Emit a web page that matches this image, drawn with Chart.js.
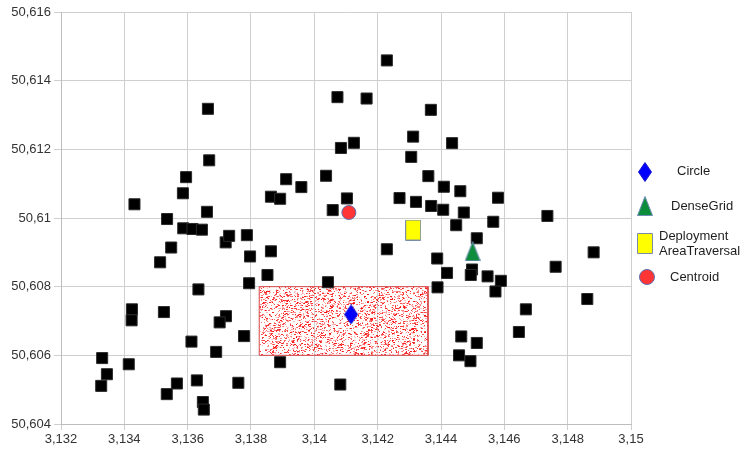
<!DOCTYPE html>
<html>
<head>
<meta charset="utf-8">
<script src="https://cdn.jsdelivr.net/npm/chart.js@4.4.1/dist/chart.umd.min.js"></script>
<style>
  html, body { margin: 0; padding: 0; background: #fff; }
</style>
</head>
<body>
<canvas id="chart" width="748" height="453"></canvas>
<script>
// sensor nodes (black squares)
const nodeX = [3.13432, 3.13535, 3.13585, 3.13595, 3.13664, 3.13668, 3.13661, 3.13863, 3.13892, 3.13911,
  3.13959, 3.14037, 3.14058, 3.14073, 3.14084, 3.14103, 3.14125, 3.14165, 3.14229, 3.14368,
  3.14312, 3.14435, 3.14306, 3.14360, 3.14409, 3.14461, 3.14269, 3.14321, 3.14369, 3.14407,
  3.14472, 3.14580, 3.14736, 3.14448, 3.14565, 3.14513, 3.14229, 3.14388, 3.14419, 3.14498,
  3.14494, 3.14547, 3.14589, 3.14572, 3.14389, 3.14882, 3.14762, 3.14862, 3.14668, 3.14646,
  3.14464, 3.14513, 3.14457, 3.14493, 3.13586, 3.13615, 3.13645, 3.13548, 3.13513, 3.13720,
  3.13731, 3.13787, 3.13797, 3.13863, 3.13852, 3.13794, 3.13634, 3.14043, 3.13424, 3.13423,
  3.13525, 3.13721, 3.13701, 3.13778, 3.13612, 3.13690, 3.13330, 3.13414, 3.13345, 3.13327,
  3.13892, 3.13566, 3.13534, 3.13629, 3.13648, 3.13651, 3.13760, 3.14082];
const nodeY = [50.61040, 50.60997, 50.61072, 50.61119, 50.61318, 50.61168, 50.61018, 50.61062, 50.61056, 50.61113,
  50.61090, 50.61123, 50.61023, 50.61352, 50.61204, 50.61057, 50.61219, 50.61348, 50.61459, 50.61315,
  50.61237, 50.61218, 50.61178, 50.61122, 50.61091, 50.61078, 50.61058, 50.61047, 50.61035, 50.61024,
  50.61016, 50.61059, 50.61006, 50.60979, 50.60989, 50.60941, 50.60909, 50.60882, 50.60840, 50.60850,
  50.60834, 50.60830, 50.60817, 50.60786, 50.60798, 50.60900, 50.60858, 50.60764, 50.60734, 50.60668,
  50.60655, 50.60636, 50.60600, 50.60583, 50.60970, 50.60968, 50.60966, 50.60914, 50.60871, 50.60929,
  50.60948, 50.60950, 50.60888, 50.60903, 50.60834, 50.60810, 50.60792, 50.60813, 50.60734, 50.60702,
  50.60726, 50.60714, 50.60696, 50.60656, 50.60640, 50.60610, 50.60592, 50.60574, 50.60545, 50.60511,
  50.60580, 50.60518, 50.60487, 50.60527, 50.60464, 50.60442, 50.60520, 50.60515];

// estimated positions
const circleX = [3.14116], circleY = [50.60719];
const denseGridX = [3.14500], denseGridY = [50.60903];
const traversalX = [3.14312], traversalY = [50.60965];
const centroidX = [3.14109], centroidY = [50.61016];

// deployment area (red dotted rectangle)
const areaX = [3.13826, 3.14359];
const areaY = [50.60600, 50.60800];

const seriesLabels = ['Circle', 'DenseGrid', 'Deployment AreaTraversal', 'Centroid'];

const xTickValues = [3.132, 3.134, 3.136, 3.138, 3.14, 3.142, 3.144, 3.146, 3.148, 3.15];
const xTickLabels = ['3,132', '3,134', '3,136', '3,138', '3,14', '3,142', '3,144', '3,146', '3,148', '3,15'];
const yTickValues = [50.604, 50.606, 50.608, 50.61, 50.612, 50.614, 50.616];
const yTickLabels = ['50,604', '50,606', '50,608', '50,61', '50,612', '50,614', '50,616'];

const pts = (xs, ys) => xs.map((x, i) => ({ x: x, y: ys[i] }));

// marker images
function makeMarker(w, h, fill, stroke, path) {
  const c = document.createElement('canvas');
  c.width = w; c.height = h;
  const g = c.getContext('2d');
  g.beginPath();
  path(g);
  g.closePath();
  g.fillStyle = fill;
  g.fill();
  g.lineWidth = 1;
  g.strokeStyle = stroke;
  g.stroke();
  return c;
}
const diamond = makeMarker(14, 20, '#0000ff', '#1a1ad0', g => {
  g.moveTo(7, 0.5); g.lineTo(13.5, 10); g.lineTo(7, 19.5); g.lineTo(0.5, 10);
});
const triangle = makeMarker(16, 20, '#0d8c3c', '#6f8db5', g => {
  g.moveTo(8, 0.5); g.lineTo(15.5, 19.5); g.lineTo(0.5, 19.5);
});
const yellowBox = makeMarker(16, 21, '#ffff00', '#7b8ca8', g => {
  g.rect(0.5, 0.5, 15, 20);
});

// speckle texture for the deployment area
function speckles() {
  const c = document.createElement('canvas');
  c.width = 180; c.height = 80;
  const g = c.getContext('2d');
  let s = 7;
  const next = () => { s = (s * 9301 + 49297) % 233280; return s / 233280; };
  for (let i = 0; i < 3800; i++) {
    const x = Math.floor(next() * 180), y = Math.floor(next() * 80);
    const a = 0.2 + next() * 0.7;
    g.fillStyle = 'rgba(250,0,0,' + a.toFixed(2) + ')';
    g.fillRect(x, y, next() < 0.35 ? 2 : 1, 1);
  }
  return c;
}
const ctx = document.getElementById('chart').getContext('2d');
const areaPattern = ctx.createPattern(speckles(), 'repeat');

const legendItems = [
  { marker: diamond, mx: 645, my: 172, tx: 677, lines: ['Circle'], ly: [171] },
  { marker: triangle, mx: 645, my: 206, tx: 671, lines: ['DenseGrid'], ly: [206] },
  { marker: yellowBox, mx: 645, my: 243, tx: 659, lines: ['Deployment', 'AreaTraversal'], ly: [236, 251] },
  { marker: 'circle', mx: 647, my: 277, tx: 670, lines: ['Centroid'], ly: [277] }
];

const sideLegend = {
  id: 'sideLegend',
  afterDraw(chart) {
    const c = chart.ctx;
    c.save();
    c.font = '13px "Liberation Sans", Arial, sans-serif';
    c.textBaseline = 'middle';
    legendItems.forEach(item => {
      if (item.marker === 'circle') {
        c.fillStyle = '#ff3535';
        c.strokeStyle = '#5a6fb0';
        c.lineWidth = 1;
        Chart.helpers.drawPoint(c, { pointStyle: 'circle', radius: 7.5, borderWidth: 1, rotation: 0 }, item.mx, item.my);
      } else {
        c.drawImage(item.marker, Math.round(item.mx - item.marker.width / 2), Math.round(item.my - item.marker.height / 2));
      }
      c.fillStyle = '#1e1e1e';
      item.lines.forEach((t, i) => c.fillText(t, item.tx, item.ly[i]));
    });
    c.restore();
  }
};

const tickFont = { family: '"Liberation Sans", Arial, sans-serif', size: 13 };

new Chart(ctx, {
  type: 'scatter',
  data: {
    datasets: [
      {
        label: seriesLabels[0],
        data: pts(circleX, circleY),
        pointStyle: diamond,
        order: 0
      },
      {
        label: seriesLabels[1],
        data: pts(denseGridX, denseGridY),
        pointStyle: triangle,
        order: 1
      },
      {
        label: seriesLabels[2],
        data: pts(traversalX, traversalY),
        pointStyle: yellowBox,
        order: 2
      },
      {
        label: seriesLabels[3],
        data: pts(centroidX, centroidY),
        pointStyle: 'circle',
        pointRadius: 7,
        backgroundColor: '#ff3535',
        borderColor: '#5a6fb0',
        borderWidth: 1,
        order: 3
      },
      {
        label: 'nodes',
        data: pts(nodeX, nodeY),
        pointStyle: 'rect',
        pointRadius: 7.8,
        backgroundColor: '#000',
        borderColor: '#2a2a2a',
        borderWidth: 1,
        order: 5
      },
      {
        // area outline
        label: 'area',
        type: 'line',
        data: pts([areaX[0], areaX[1], areaX[1], areaX[0], areaX[0]], [areaY[1], areaY[1], areaY[0], areaY[0], areaY[1]]),
        borderColor: '#d94848',
        borderWidth: 1,
        pointRadius: 0,
        tension: 0,
        fill: false,
        order: 8
      },
      {
        // dotted interior
        label: 'areaFill',
        type: 'line',
        data: pts([areaX[0], areaX[1]], [areaY[1], areaY[1]]),
        borderWidth: 0,
        pointRadius: 0,
        backgroundColor: areaPattern,
        fill: { value: areaY[0] },
        order: 9
      }
    ]
  },
  options: {
    responsive: false,
    animation: false,
    layout: { padding: { top: 12, right: 117, left: 0, bottom: 0 } },
    plugins: {
      legend: { display: false },
      tooltip: { enabled: false }
    },
    scales: {
      x: {
        type: 'linear',
        min: 3.132,
        max: 3.15,
        afterBuildTicks: axis => { axis.ticks = xTickValues.map(v => ({ value: v })); },
        afterFit: s => { s.height = 29; },
        ticks: {
          callback: (v, i) => xTickLabels[i],
          font: tickFont,
          color: '#333',
          padding: 2,
          maxRotation: 0,
          autoSkip: false
        },
        grid: { color: '#cfcfcf', tickLength: 6 },
        border: { color: '#bdbdbd' }
      },
      y: {
        type: 'linear',
        min: 50.604,
        max: 50.616,
        afterBuildTicks: axis => { axis.ticks = yTickValues.map(v => ({ value: v })); },
        afterFit: s => { s.width = 61; },
        ticks: {
          callback: (v, i) => yTickLabels[i],
          font: tickFont,
          color: '#333',
          padding: 3,
          autoSkip: false
        },
        grid: { color: '#cfcfcf', tickLength: 7 },
        border: { color: '#bdbdbd' }
      }
    }
  },
  plugins: [sideLegend]
});
</script>
</body>
</html>
